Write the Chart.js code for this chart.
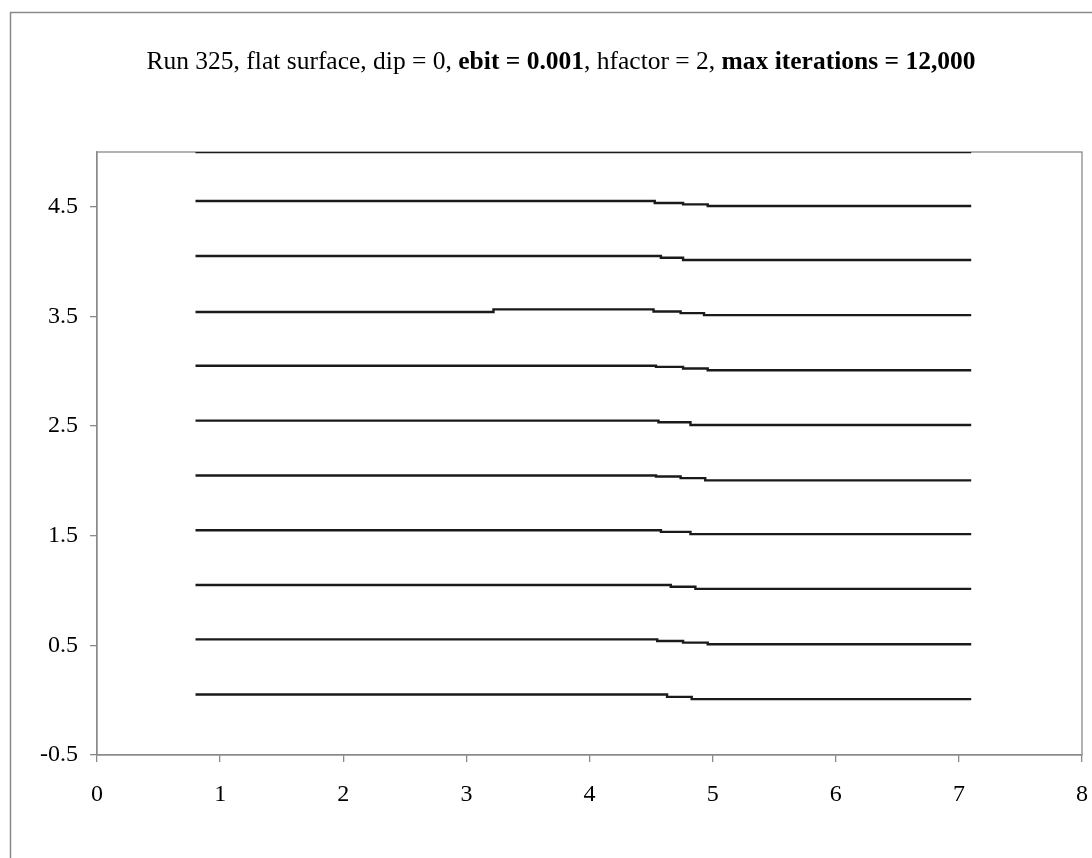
<!DOCTYPE html>
<html>
<head>
<meta charset="utf-8">
<script src="https://cdn.jsdelivr.net/npm/chart.js@4/dist/chart.umd.min.js"></script>
<style>
  html, body { margin: 0; padding: 0; background: #ffffff; }
  #wrap { position: relative; width: 1092px; height: 858px; }
</style>
</head>
<body>
<div id="wrap"><canvas id="c" width="1092" height="858"></canvas></div>
<script>
// Surface profiles: x positions where the profile changes, and the heights held from each x onward
const line0x  = [0.8, 4.63, 4.83, 7.1];
const line0y  = [0.052, 0.030, 0.010, 0.010];
const line1x  = [0.8, 4.55, 4.76, 4.96, 7.1];
const line1y  = [0.555, 0.540, 0.525, 0.510, 0.510];
const line2x  = [0.8, 4.66, 4.86, 7.1];
const line2y  = [1.050, 1.035, 1.015, 1.015];
const line3x  = [0.8, 4.58, 4.82, 7.1];
const line3y  = [1.550, 1.535, 1.515, 1.515];
const line4x  = [0.8, 4.54, 4.74, 4.94, 7.1];
const line4y  = [2.050, 2.040, 2.025, 2.005, 2.005];
const line5x  = [0.8, 4.56, 4.82, 7.1];
const line5y  = [2.550, 2.535, 2.510, 2.510];
const line6x  = [0.8, 4.54, 4.76, 4.96, 7.1];
const line6y  = [3.050, 3.040, 3.025, 3.010, 3.010];
const line7x  = [0.8, 3.22, 4.52, 4.74, 4.93, 7.1];
const line7y  = [3.540, 3.565, 3.545, 3.530, 3.512, 3.512];
const line8x  = [0.8, 4.58, 4.76, 7.1];
const line8y  = [4.052, 4.035, 4.015, 4.015];
const line9x  = [0.8, 4.53, 4.76, 4.96, 7.1];
const line9y  = [4.553, 4.535, 4.522, 4.507, 4.507];
const line10x = [0.8, 7.1];
const line10y = [5.000, 5.000];

const xTicks = [0, 1, 2, 3, 4, 5, 6, 7, 8];
const yTicks = [-0.5, 0.5, 1.5, 2.5, 3.5, 4.5];

const titleParts = [
  ['Run 325, flat surface, dip = 0, ', false],
  ['ebit = 0.001', true],
  [', hfactor = 2, ', false],
  ['max iterations = 12,000', true]
];

const profiles = [
  [line0x, line0y], [line1x, line1y], [line2x, line2y], [line3x, line3y],
  [line4x, line4y], [line5x, line5y], [line6x, line6y], [line7x, line7y],
  [line8x, line8y], [line9x, line9y], [line10x, line10y]
];

const SERIF = '"Liberation Serif", "Times New Roman", serif';

const datasets = profiles.map(([xs, ys]) => ({
  data: xs.map((x, i) => ({ x: x, y: ys[i] })),
  showLine: true,
  stepped: 'before',
  borderColor: '#1a1a1a',
  borderWidth: 2.4,
  pointRadius: 0,
  pointHoverRadius: 0,
  fill: false
}));

// Outer frame, plot-area box and the mixed-weight title
const decorations = {
  id: 'decorations',
  beforeDraw(chart) {
    const ctx = chart.ctx;
    ctx.save();
    ctx.fillStyle = '#ffffff';
    ctx.fillRect(0, 0, chart.width, chart.height);
    ctx.strokeStyle = '#8a8a8a';
    ctx.lineWidth = 1.5;
    ctx.strokeRect(10.5, 12.5, 1200, 1000);
    ctx.restore();
  },
  beforeDatasetsDraw(chart) {
    const ctx = chart.ctx, a = chart.chartArea;
    ctx.save();
    ctx.strokeStyle = '#8a8a8a';
    ctx.lineWidth = 1.3;
    ctx.strokeRect(a.left, a.top, a.right - a.left, a.bottom - a.top);
    ctx.restore();
  },
  afterDraw(chart) {
    const ctx = chart.ctx;
    ctx.save();
    ctx.fillStyle = '#000000';
    ctx.textBaseline = 'alphabetic';
    const size = 25.5;
    let total = 0;
    const widths = titleParts.map(([t, b]) => {
      ctx.font = (b ? 'bold ' : '') + size + 'px ' + SERIF;
      const w = ctx.measureText(t).width;
      total += w;
      return w;
    });
    let x = 561 - total / 2;
    titleParts.forEach(([t, b], i) => {
      ctx.font = (b ? 'bold ' : '') + size + 'px ' + SERIF;
      ctx.fillText(t, x, 69);
      x += widths[i];
    });
    ctx.restore();
  }
};

new Chart(document.getElementById('c'), {
  type: 'scatter',
  data: { datasets: datasets },
  options: {
    responsive: false,
    animation: false,
    events: [],
    layout: { padding: { left: 0, top: 152, right: 10, bottom: 43 } },
    plugins: {
      legend: { display: false },
      tooltip: { enabled: false },
      title: { display: false }
    },
    scales: {
      x: {
        type: 'linear',
        min: 0,
        max: 8,
        afterBuildTicks(scale) { scale.ticks = xTicks.map(v => ({ value: v })); },
        afterFit(scale) { scale.height = 60; scale.paddingLeft = 0; scale.paddingRight = 0; },
        border: { display: true, color: '#8a8a8a', width: 1.3 },
        grid: { drawOnChartArea: false, drawTicks: true, tickLength: 7, color: '#8a8a8a', lineWidth: 1.3 },
        ticks: {
          color: '#000000',
          padding: 18,
          maxRotation: 0,
          font: { family: SERIF, size: 24 }
        }
      },
      y: {
        type: 'linear',
        min: -0.5,
        max: 5,
        afterBuildTicks(scale) { scale.ticks = yTicks.map(v => ({ value: v })); },
        afterFit(scale) { scale.width = 97; scale.paddingTop = 0; scale.paddingBottom = 0; },
        border: { display: true, color: '#8a8a8a', width: 1.3 },
        grid: { drawOnChartArea: false, drawTicks: true, tickLength: 7, color: '#8a8a8a', lineWidth: 1.3 },
        ticks: {
          color: '#000000',
          padding: 12,
          font: { family: SERIF, size: 24 },
          callback: v => String(v)
        }
      }
    }
  },
  plugins: [decorations]
});
</script>
</body>
</html>
